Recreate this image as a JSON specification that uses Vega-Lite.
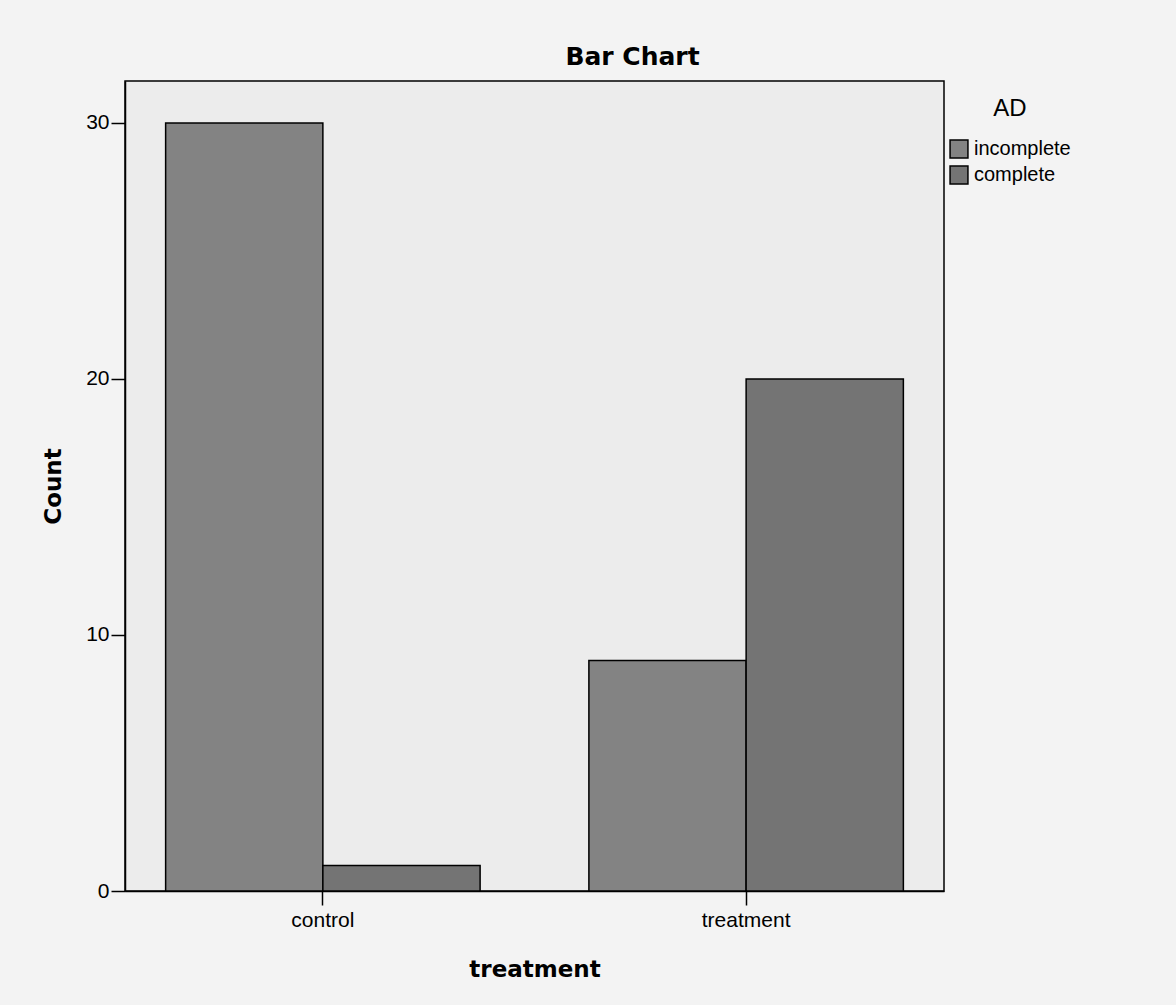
{
  "$schema": "https://vega.github.io/schema/vega-lite/v6.json",
  "autosize": "none",
  "padding": {"left": 125, "top": 81, "right": 232, "bottom": 114},
  "width": 819,
  "height": 810,
  "background": "#f3f3f3",
  "title": {
    "text": "Bar Chart",
    "font": "DejaVu Sans",
    "fontWeight": "bold",
    "fontSize": 25,
    "color": "#000000",
    "anchor": "middle",
    "baseline": "alphabetic",
    "offset": -9,
    "dx": 98
  },
  "data": {
    "values": [
      {"treatment": "control", "AD": "incomplete", "count": 30},
      {"treatment": "control", "AD": "complete", "count": 1},
      {"treatment": "treatment", "AD": "incomplete", "count": 9},
      {"treatment": "treatment", "AD": "complete", "count": 20}
    ]
  },
  "mark": {"type": "bar", "stroke": "#000000", "strokeWidth": 1.5},
  "encoding": {
    "x": {
      "field": "treatment",
      "type": "nominal",
      "sort": ["control", "treatment"],
      "scale": {"paddingInner": 0.257, "paddingOuter": 0.096},
      "axis": {
        "title": "treatment",
        "labelAngle": 0,
        "domainColor": "#000000",
        "domainWidth": 1.5,
        "tickColor": "#000000",
        "tickSize": 14,
        "tickWidth": 1.5,
        "labelFont": "Liberation Sans",
        "labelFontSize": 21,
        "labelColor": "#000000",
        "labelPadding": 4,
        "titleFont": "DejaVu Sans",
        "titleFontWeight": "bold",
        "titleFontSize": 23,
        "titleColor": "#000000",
        "titlePadding": 28
      }
    },
    "xOffset": {
      "field": "AD",
      "type": "nominal",
      "sort": ["incomplete", "complete"],
      "scale": {"paddingInner": 0, "paddingOuter": 0}
    },
    "y": {
      "field": "count",
      "type": "quantitative",
      "scale": {"domain": [0, 31.64], "nice": false},
      "axis": {
        "title": "Count",
        "values": [0, 10, 20, 30],
        "grid": false,
        "domainColor": "#000000",
        "domainWidth": 1.5,
        "tickColor": "#000000",
        "tickSize": 14,
        "tickWidth": 1.5,
        "labelFont": "Liberation Sans",
        "labelFontSize": 21,
        "labelColor": "#000000",
        "labelPadding": 2,
        "titleFont": "DejaVu Sans",
        "titleFontWeight": "bold",
        "titleFontSize": 23,
        "titleColor": "#000000",
        "titlePadding": 20
      }
    },
    "color": {
      "field": "AD",
      "type": "nominal",
      "sort": ["incomplete", "complete"],
      "scale": {"domain": ["incomplete", "complete"], "range": ["#838383", "#747474"]},
      "legend": {
        "title": "AD",
        "orient": "none",
        "legendX": 824,
        "legendY": 16,
        "titleFont": "Liberation Sans",
        "titleFontSize": 24,
        "titleFontWeight": "normal",
        "titleColor": "#000000",
        "titleAnchor": "middle",
        "titlePadding": 18,
        "labelFont": "Liberation Sans",
        "labelFontSize": 20,
        "labelColor": "#000000",
        "labelOffset": 5,
        "symbolType": "square",
        "symbolSize": 320,
        "symbolStrokeColor": "#000000",
        "symbolStrokeWidth": 1.5,
        "symbolOpacity": 1,
        "rowPadding": 2
      }
    }
  },
  "config": {
    "view": {"fill": "#ececec", "stroke": "#000000", "strokeWidth": 1.5}
  }
}
